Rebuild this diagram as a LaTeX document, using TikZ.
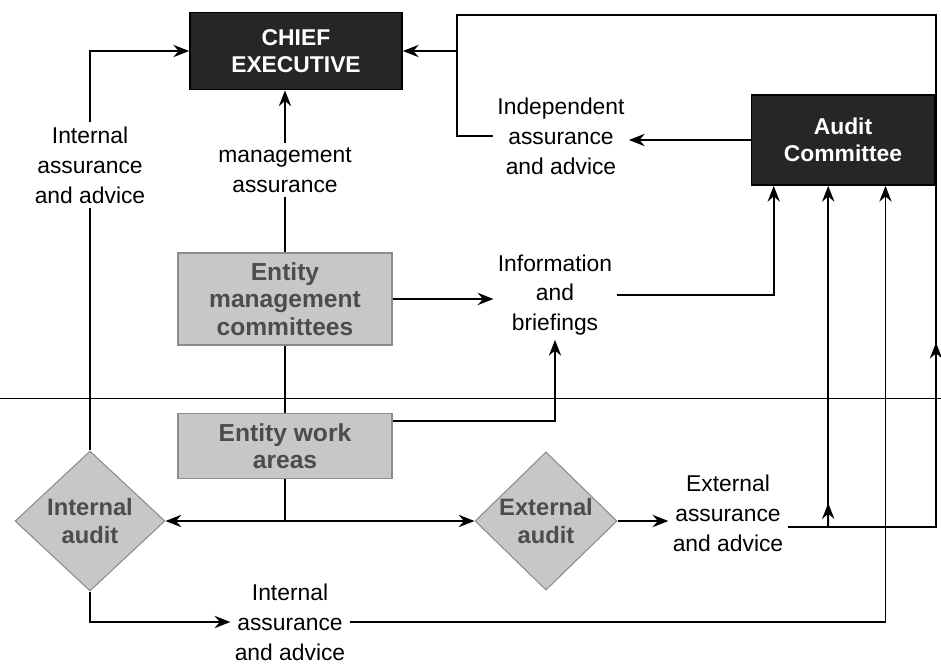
\documentclass[tikz,border=0pt]{standalone}
\usepackage{fontspec}
\setmainfont{Liberation Sans}
\usetikzlibrary{shapes.geometric,arrows.meta,calc,positioning}

\begin{document}
\begin{tikzpicture}[x=0.02cm, y=-0.02cm, line width=1pt,
  >={Stealth[length=9pt,width=7pt,inset=3pt]},
  darkbox/.style={rectangle, draw, fill=black!85, text=white, font=\fontsize{13}{15}\selectfont\bfseries, align=center, inner sep=2pt},
  lightbox/.style={rectangle, draw=black!45, line width=0.6pt, fill=black!22, text=black!70, font=\fontsize{14}{15.5}\selectfont\bfseries, align=center, minimum width=4.28cm},
  auditdiamond/.style={diamond, draw=black!45, line width=0.6pt, fill=black!22, text=black!70, font=\fontsize{13.5}{15.5}\selectfont\bfseries, align=center, inner sep=0pt},
  flowlabel/.style={fill=white, align=center, inner sep=2pt, font=\fontsize{13}{17}\selectfont}]

\useasboundingbox (0,0) rectangle (941,664);

%Nodes
\node[darkbox, minimum width=4.24cm, minimum height=1.54cm] (ce) at (296,51) {CHIEF\\EXECUTIVE};
\node[darkbox, minimum width=3.66cm, minimum height=1.8cm]  (ac) at (843,140) {Audit\\Committee};
\node[lightbox, minimum height=1.84cm] (emc) at (285,299) {Entity\\management\\committees};
\node[lightbox, minimum height=1.3cm]  (ewa) at (285,446) {Entity work\\areas};
\node[auditdiamond, minimum width=3cm, minimum height=2.8cm]    (ia) at (90,521)  {Internal\\audit};
\node[auditdiamond, minimum width=2.84cm, minimum height=2.7cm] (ea) at (546,521) {External\\audit};

%Labels
\node[flowlabel] (lint)  at (90,165)  {Internal\\assurance\\and advice};
\node[flowlabel] (lmgmt) at (285,170) {management\\assurance};
\node[flowlabel] (lind)  at (561,136) {Independent\\assurance\\and advice};
\node[flowlabel] (linfo) at (555,295) {Information\\and\\briefings};
\node[flowlabel] (lext)  at (728,513) {External\\assurance\\and advice};
\node[flowlabel] (lintb) at (290,622) {Internal\\assurance\\and advice};

\coordinate (redge) at (936,527);
\coordinate (tr) at (936,15);
\coordinate (tl) at (457,15);
\coordinate (xa) at ($(ac.south west)!0.42!(ac.south east)$);
\coordinate (xb) at (xa |- redge);

%Lines
\draw[line width=0.5pt] (0,398) -- (941,398);
\draw (ia.north) -- (lint.south);
\draw[->] (lint.north) |- (ce.west);
\draw (emc.north) -- (lmgmt.south);
\draw[->] (lmgmt.north) -- (lmgmt.north |- ce.south);
\draw[->] (emc.east) -- (emc.east -| linfo.west);
\draw[->] (linfo.east) -| ($(ac.south west)!0.125!(ac.south east)$);
\draw (ewa.north) -- (emc.south);
\draw[->] ($(ewa.north east)!0.12!(ewa.south east)$) -| (linfo.south);
\draw (ewa.south) -- (ewa.south |- ia.east);
\draw[<->] (ia.east) -- (ea.west);
\draw[->] (ea.east) -- (ea.east -| lext.west);
\draw ($(lext.east)+(0,14)$) -- (redge) -- (tr) -- (tl) -- (tl |- lind.west) -- (lind.west);
\draw[->] (redge) -- ($(redge)!0.36!(tr)$);
\draw[->] (xb) -- (xa);
\draw[->] (xb) -- ($(xb)!0.07!(xa)$);
\draw[->] (tl |- ce.east) -- (ce.east);
\draw[->] (ac.west) -- (ac.west -| lind.east);
\draw[->] (ia.south) |- (lintb.west);
\draw[->] (lintb.east) -| ($(ac.south west)!0.73!(ac.south east)$);

\end{tikzpicture}
\end{document}
